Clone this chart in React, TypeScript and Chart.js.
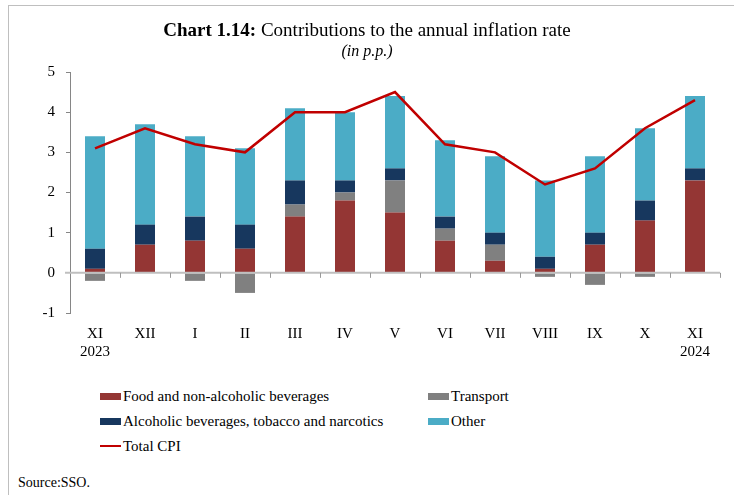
import React, { useEffect, useRef } from 'react';
import { Chart, registerables } from 'chart.js';

Chart.register(...registerables);

const months = ['XI', 'XII', 'I', 'II', 'III', 'IV', 'V', 'VI', 'VII', 'VIII', 'IX', 'X', 'XI'];
const years = ['2023', '', '', '', '', '', '', '', '', '', '', '', '2024'];

const food = [0.1, 0.7, 0.8, 0.6, 1.4, 1.8, 1.5, 0.8, 0.3, 0.1, 0.7, 1.3, 2.3];
const transport = [-0.2, 0, -0.2, -0.5, 0.3, 0.2, 0.8, 0.3, 0.4, -0.1, -0.3, -0.1, 0];
const alcohol = [0.5, 0.5, 0.6, 0.6, 0.6, 0.3, 0.3, 0.3, 0.3, 0.3, 0.3, 0.5, 0.3];
const other = [2.8, 2.5, 2.0, 1.9, 1.8, 1.7, 1.8, 1.9, 1.9, 1.9, 1.9, 1.8, 1.8];
const totalCPI = [3.1, 3.6, 3.2, 3.0, 4.0, 4.0, 4.5, 3.2, 3.0, 2.2, 2.6, 3.6, 4.3];

const yTicks = [-1, 0, 1, 2, 3, 4, 5];

const FONT = '"Liberation Serif", "Times New Roman", serif';

const COLORS = {
  food: '#943634',
  transport: '#808080',
  alcohol: '#17375E',
  other: '#4BACC6',
  total: '#C00000',
};

const legendItems = [
  { label: 'Food and non-alcoholic beverages', color: COLORS.food, type: 'box' },
  { label: 'Transport', color: COLORS.transport, type: 'box' },
  { label: 'Alcoholic beverages, tobacco and narcotics', color: COLORS.alcohol, type: 'box' },
  { label: 'Other', color: COLORS.other, type: 'box' },
  { label: 'Total CPI', color: COLORS.total, type: 'line' },
];

const zeroLinePlugin = {
  id: 'zeroLine',
  afterDatasetsDraw(chart: any) {
    const { ctx, chartArea, scales } = chart;
    const x = scales.x;
    const y = scales.y;
    const y0 = y.getPixelForValue(0);
    ctx.save();
    ctx.strokeStyle = '#BFBFBF';
    ctx.lineWidth = 2;
    ctx.beginPath();
    ctx.moveTo(chartArea.left - 5, y0);
    ctx.lineTo(chartArea.right, y0);
    ctx.stroke();
    const half = (x.getPixelForValue(1) - x.getPixelForValue(0)) / 2;
    ctx.strokeStyle = '#999999';
    ctx.lineWidth = 1;
    for (let i = 0; i < months.length; i++) {
      const px = Math.round(x.getPixelForValue(i) + half) + 0.5;
      ctx.beginPath();
      ctx.moveTo(px, y0);
      ctx.lineTo(px, y0 + 5);
      ctx.stroke();
    }
    ctx.restore();
  },
};

export default function App() {
  const canvasRef = useRef<HTMLCanvasElement | null>(null);

  useEffect(() => {
    if (!canvasRef.current) return;
    const labels = months.map((m, i) => (years[i] ? [m, years[i]] : m));
    const barCommon = {
      type: 'bar' as const,
      stack: 'bars',
      order: 1,
      barPercentage: 0.4,
      categoryPercentage: 1,
      borderWidth: 0,
    };
    const chart = new Chart(canvasRef.current, {
      type: 'bar',
      data: {
        labels,
        datasets: [
          { ...barCommon, label: 'Food and non-alcoholic beverages', data: food, backgroundColor: COLORS.food },
          { ...barCommon, label: 'Transport', data: transport, backgroundColor: COLORS.transport },
          { ...barCommon, label: 'Alcoholic beverages, tobacco and narcotics', data: alcohol, backgroundColor: COLORS.alcohol },
          { ...barCommon, label: 'Other', data: other, backgroundColor: COLORS.other },
          {
            type: 'line' as const,
            label: 'Total CPI',
            data: totalCPI,
            stack: 'line',
            order: 0,
            borderColor: COLORS.total,
            backgroundColor: COLORS.total,
            borderWidth: 2.5,
            pointRadius: 0,
            tension: 0,
            fill: false,
          } as any,
        ],
      },
      options: {
        animation: false,
        responsive: false,
        maintainAspectRatio: false,
        layout: { padding: { left: 10, right: 14, top: 72, bottom: 7 } },
        plugins: {
          legend: { display: false },
          title: { display: false },
          tooltip: { enabled: false },
        },
        scales: {
          x: {
            stacked: true,
            grid: { display: false, drawTicks: false },
            border: { display: false },
            ticks: {
              color: '#000',
              font: { family: FONT, size: 15 },
              padding: 12,
              maxRotation: 0,
              autoSkip: false,
            },
            afterFit(scale: any) {
              scale.height = 50;
            },
          },
          y: {
            stacked: true,
            min: -1,
            max: 5,
            afterBuildTicks(scale: any) {
              scale.ticks = yTicks.map((v) => ({ value: v }));
            },
            grid: {
              drawOnChartArea: false,
              drawTicks: true,
              tickLength: 4,
              color: '#868686',
            },
            border: { display: true, color: '#868686', width: 1 },
            ticks: {
              color: '#000',
              font: { family: FONT, size: 15 },
              padding: 11,
            },
            afterFit(scale: any) {
              scale.width = 60;
            },
          },
        },
      },
      plugins: [zeroLinePlugin],
    });
    return () => chart.destroy();
  }, []);

  const legendPos = [
    { left: 100, top: 387 },
    { left: 428, top: 387 },
    { left: 100, top: 412 },
    { left: 428, top: 412 },
    { left: 100, top: 437 },
  ];

  return (
    <div
      style={{
        position: 'absolute',
        left: 0,
        top: 0,
        width: 734,
        height: 495,
        background: '#fff',
        overflow: 'hidden',
        fontFamily: FONT,
        color: '#000',
      }}
    >
      <div
        style={{
          position: 'absolute',
          left: 8,
          top: 5,
          width: 740,
          height: 500,
          borderLeft: '1.5px solid #BFBFBF',
          borderTop: '1.5px solid #BFBFBF',
        }}
      />
      <canvas
        ref={canvasRef}
        width={734}
        height={370}
        style={{ position: 'absolute', left: 0, top: 0, width: 734, height: 370 }}
      />
      <div
        style={{
          position: 'absolute',
          left: 0,
          width: 734,
          top: 18,
          textAlign: 'center',
          fontSize: 19,
          lineHeight: '23px',
        }}
      >
        <b>Chart 1.14:</b> Contributions to the annual inflation rate
      </div>
      <div
        style={{
          position: 'absolute',
          left: 0,
          width: 734,
          top: 41,
          textAlign: 'center',
          fontSize: 16,
          fontStyle: 'italic',
          lineHeight: '20px',
        }}
      >
        (in p.p.)
      </div>
      {legendItems.map((item, i) => (
        <div
          key={i}
          style={{
            position: 'absolute',
            left: legendPos[i].left,
            top: legendPos[i].top,
            height: 18,
            display: 'flex',
            alignItems: 'center',
            fontSize: 15,
            whiteSpace: 'nowrap',
          }}
        >
          <span
            style={{
              display: 'inline-block',
              width: 21,
              height: item.type === 'box' ? 7 : 2.5,
              background: item.color,
              marginRight: 2,
            }}
          />
          {item.label}
        </div>
      ))}
      <div
        style={{
          position: 'absolute',
          left: 18,
          top: 474,
          fontSize: 14,
          lineHeight: '18px',
        }}
      >
        Source:SSO.
      </div>
    </div>
  );
}
